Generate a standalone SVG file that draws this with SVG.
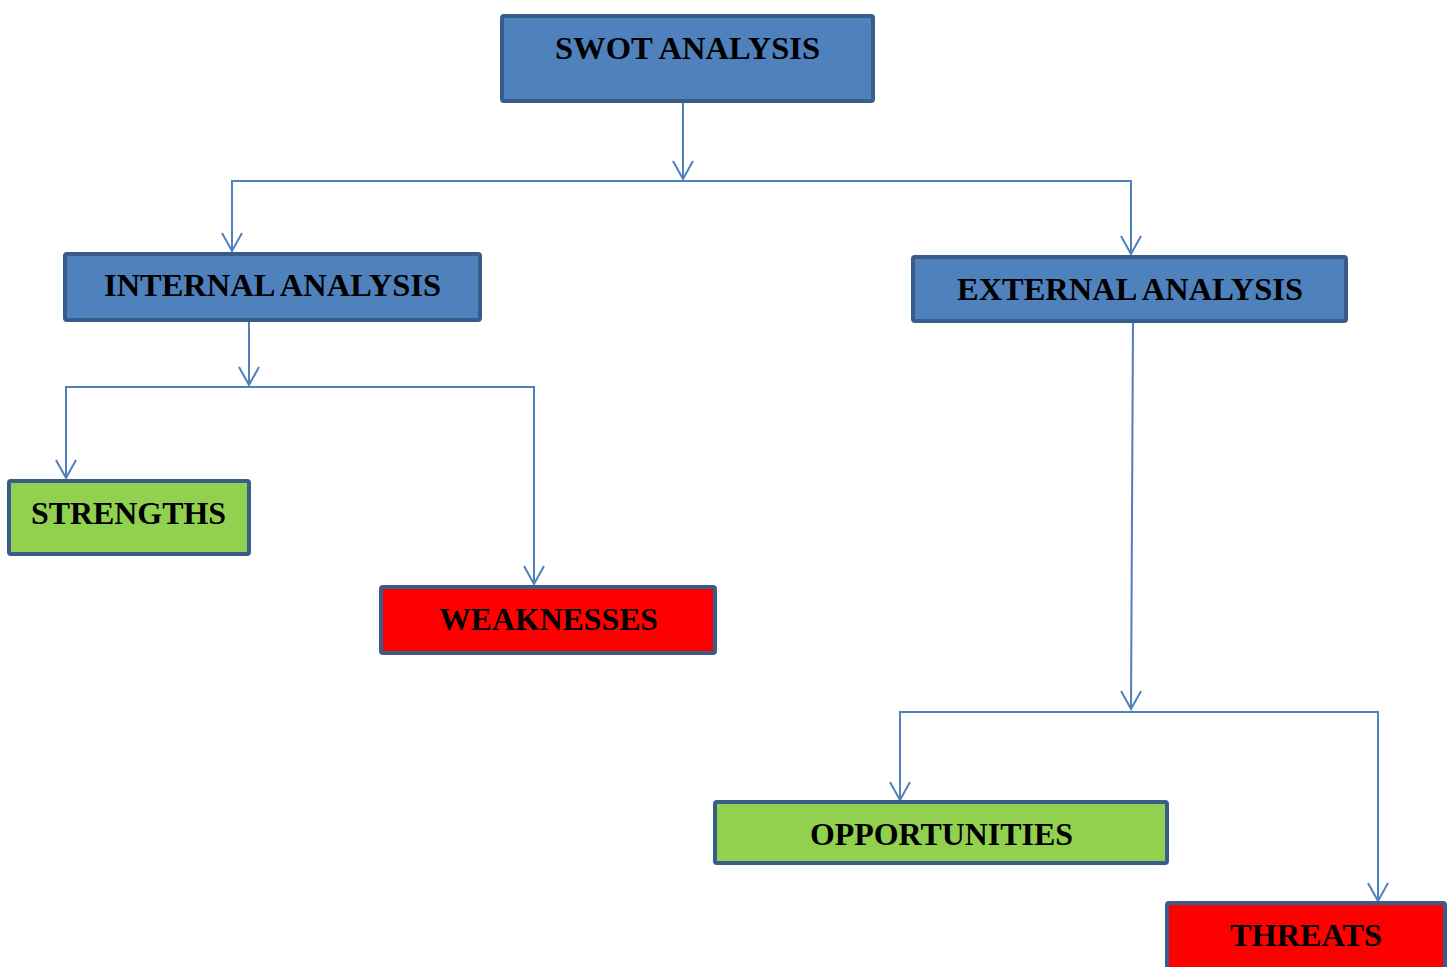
<svg xmlns="http://www.w3.org/2000/svg" width="1454" height="967" viewBox="0 0 1454 967">
<defs>
<style>
.blue{fill:#4F81BD;stroke:#385D8A;stroke-width:4}
.green{fill:#92D050;stroke:#385D8A;stroke-width:4}
.red{fill:#FF0000;stroke:#385D8A;stroke-width:4}
.lbl{font-family:"Liberation Serif","Times New Roman",serif;font-weight:bold;font-size:32.5px;fill:#000;text-anchor:middle}
.conn{fill:none;stroke:#4F81BD;stroke-width:2}
</style>
<marker id="arr" viewBox="-20 -12 22 24" refX="0" refY="0" markerWidth="22" markerHeight="24" markerUnits="userSpaceOnUse" orient="auto">
<path d="M-18,-10 L0,0 L-18,10" fill="none" stroke="#4F81BD" stroke-width="2"/>
</marker>
</defs>
<rect width="1454" height="967" fill="#fff"/>
<g id="connectors">
<line class="conn" x1="683" y1="102" x2="683" y2="179" marker-end="url(#arr)"/>
<polyline class="conn" points="232,251 232,181 1131,181 1131,251" />
<line class="conn" x1="232" y1="200" x2="232" y2="251" marker-end="url(#arr)"/>
<line class="conn" x1="1131" y1="200" x2="1131" y2="254" marker-end="url(#arr)"/>
<line class="conn" x1="249" y1="321" x2="249" y2="385" marker-end="url(#arr)"/>
<polyline class="conn" points="66,478 66,387 534,387 534,583"/>
<line class="conn" x1="66" y1="420" x2="66" y2="478" marker-end="url(#arr)"/>
<line class="conn" x1="534" y1="520" x2="534" y2="584" marker-end="url(#arr)"/>
<line class="conn" x1="1133" y1="322" x2="1131" y2="709" marker-end="url(#arr)"/>
<polyline class="conn" points="900,799 900,712 1378,712 1378,900"/>
<line class="conn" x1="900" y1="740" x2="900" y2="800" marker-end="url(#arr)"/>
<line class="conn" x1="1378" y1="840" x2="1378" y2="901" marker-end="url(#arr)"/>
</g>
<g id="swot">
<rect class="blue" x="502" y="16" width="371" height="85" rx="2"/>
<text class="lbl" x="687.5" y="59" textLength="265" lengthAdjust="spacingAndGlyphs">SWOT ANALYSIS</text>
</g>
<g id="internal">
<rect class="blue" x="65" y="254" width="415" height="66" rx="2"/>
<text class="lbl" x="272.5" y="296" textLength="337" lengthAdjust="spacingAndGlyphs">INTERNAL ANALYSIS</text>
</g>
<g id="external">
<rect class="blue" x="913" y="257" width="433" height="64" rx="2"/>
<text class="lbl" x="1130" y="300" textLength="346" lengthAdjust="spacingAndGlyphs">EXTERNAL ANALYSIS</text>
</g>
<g id="strengths">
<rect class="green" x="9" y="481" width="240" height="73" rx="2"/>
<text class="lbl" x="128.5" y="524" textLength="195" lengthAdjust="spacingAndGlyphs">STRENGTHS</text>
</g>
<g id="weaknesses">
<rect class="red" x="381" y="587" width="334" height="66" rx="2"/>
<text class="lbl" x="548.5" y="630" textLength="219" lengthAdjust="spacingAndGlyphs">WEAKNESSES</text>
</g>
<g id="opportunities">
<rect class="green" x="715" y="802" width="452" height="61" rx="2"/>
<text class="lbl" x="941.5" y="845" textLength="263" lengthAdjust="spacingAndGlyphs">OPPORTUNITIES</text>
</g>
<g id="threats">
<rect class="red" x="1167" y="903" width="278" height="70" rx="2"/>
<text class="lbl" x="1306" y="946" textLength="152" lengthAdjust="spacingAndGlyphs">THREATS</text>
</g>
</svg>
